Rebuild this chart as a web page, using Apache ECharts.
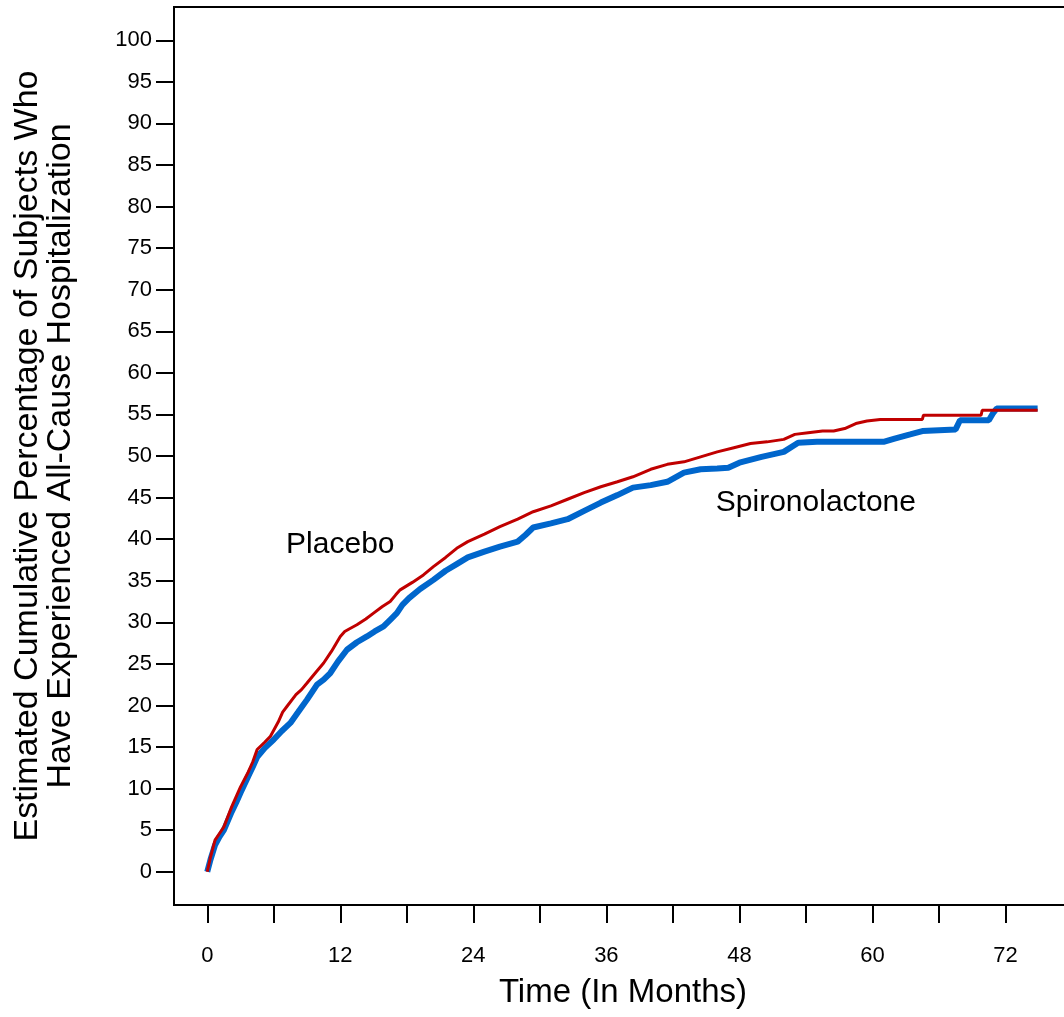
<!DOCTYPE html>
<html>
<head>
<meta charset="utf-8">
<script src="https://cdn.jsdelivr.net/npm/echarts@6/dist/echarts.min.js"></script>
<style>html,body{margin:0;padding:0;background:#fff}#chart{width:1064px;height:1017px}</style>
</head>
<body>
<div id="chart"></div>
<script>
// Placebo (red) cumulative incidence
const placeboMonths = [0, 0.3, 0.7, 1.1, 1.5, 2.2, 2.6, 3, 3.7, 4.1, 4.5, 5.2, 5.7, 6.4, 6.8, 7.2, 8, 8.5, 9, 9.8, 10.5, 11.2, 12, 12.4, 12.8, 13.5, 14.3, 15, 15.8, 16.5, 17, 17.4, 18.5, 19.5, 20.4, 21.5, 22.5, 23.5, 25, 26.4, 28, 29.4, 31, 32.5, 34, 35.5, 37, 38.4, 40, 41.5, 43, 44.5, 46, 47.5, 49, 50.5, 52, 53, 54.2, 55.5, 56.5, 57.5, 58.5, 59.5, 60.7, 64.5, 64.6, 69.8, 69.9, 74.9];
const placeboValues = [0, 1.8, 3.8, 4.6, 5.4, 7.8, 9.0, 10.2, 12, 13.2, 14.7, 15.6, 16.3, 18, 19.2, 19.9, 21.3, 21.9, 22.7, 24, 25.1, 26.5, 28.3, 28.9, 29.2, 29.7, 30.4, 31.1, 31.9, 32.5, 33.3, 33.9, 34.8, 35.7, 36.7, 37.8, 38.9, 39.7, 40.6, 41.5, 42.4, 43.3, 44.0, 44.8, 45.6, 46.3, 46.9, 47.5, 48.4, 49.0, 49.3, 49.9, 50.5, 51.0, 51.5, 51.7, 52.0, 52.6, 52.8, 53.0, 53.0, 53.3, 53.9, 54.2, 54.4, 54.4, 54.9, 54.9, 55.5, 55.5];

// Spironolactone (blue)
const spiroMonths = [0, 0.3, 0.7, 1.1, 1.5, 2.2, 2.6, 3, 3.7, 4.1, 4.5, 5.2, 6, 6.7, 7.5, 8.2, 9, 9.9, 10.5, 11.1, 11.8, 12.6, 13.5, 14.4, 15.1, 15.9, 16.5, 17.1, 17.6, 18.2, 19.2, 20.4, 21.5, 22.5, 23.5, 25, 26.4, 28, 28.7, 29.4, 31, 32.5, 34, 35.5, 37, 38.4, 40, 41.5, 43, 44.5, 46, 47, 48, 50, 52, 53.3, 55, 61, 62, 63.4, 64.5, 67.5, 67.9, 70.5, 70.9, 71.2, 74.9];
const spiroValues = [0, 1.5, 3.2, 4.2, 5.0, 7.2, 8.3, 9.5, 11.5, 12.6, 13.8, 14.9, 15.9, 16.9, 17.9, 19.2, 20.7, 22.5, 23.1, 23.9, 25.3, 26.7, 27.6, 28.3, 28.9, 29.5, 30.3, 31.1, 32.1, 32.9, 34.0, 35.1, 36.2, 37.0, 37.8, 38.5, 39.1, 39.7, 40.5, 41.4, 41.9, 42.4, 43.4, 44.4, 45.3, 46.2, 46.5, 46.9, 48.0, 48.4, 48.5, 48.6, 49.2, 49.9, 50.5, 51.6, 51.7, 51.7, 52.1, 52.6, 53.0, 53.2, 54.3, 54.3, 55.2, 55.7, 55.7];

// Axis ticks and labels
const xTickValues = [0, 6, 12, 18, 24, 30, 36, 42, 48, 54, 60, 66, 72];
const xLabelValues = [0, 12, 24, 36, 48, 60, 72];
const yTickValues = [0, 5, 10, 15, 20, 25, 30, 35, 40, 45, 50, 55, 60, 65, 70, 75, 80, 85, 90, 95, 100];

// In-plot text annotations (data coordinates)
const annotationNames = ['Placebo', 'Spironolactone'];
const annotationMonths = [12, 54.9];
const annotationValues = [39.3, 44.4];

const FONT = "'Liberation Sans', Arial, Helvetica, sans-serif";
const zip = (a, b) => a.map((v, i) => [v, b[i]]);

const chart = echarts.init(document.getElementById('chart'), null, { renderer: 'canvas' });
chart.setOption({
  animation: false,
  backgroundColor: '#ffffff',
  grid: { left: 174, top: 7, width: 898, height: 898, outerBoundsMode: 'none', containLabel: false, show: true, borderColor: '#000', borderWidth: 2, backgroundColor: 'transparent' },
  xAxis: {
    type: 'value', min: -3, max: 78,
    name: 'Time (In Months)', nameLocation: 'middle', nameGap: 71,
    nameTextStyle: { fontFamily: FONT, fontSize: 33, color: '#000' },
    axisLine: { show: true, onZero: false, lineStyle: { color: '#000', width: 2 } },
    axisTick: { show: true, length: 18, inside: false, customValues: xTickValues, lineStyle: { color: '#000', width: 2 } },
    axisLabel: { show: true, customValues: xLabelValues, margin: 40, fontFamily: FONT, fontSize: 22, color: '#000' },
    splitLine: { show: false }
  },
  yAxis: {
    type: 'value', min: -4, max: 104,
    name: 'Estimated Cumulative Percentage of Subjects Who\nHave Experienced All-Cause Hospitalization',
    nameLocation: 'middle', nameGap: 97, nameRotate: 90,
    nameTextStyle: { fontFamily: FONT, fontSize: 34, lineHeight: 33, color: '#000', align: 'center' },
    axisLine: { show: true, onZero: false, lineStyle: { color: '#000', width: 2 } },
    axisTick: { show: true, length: 18, inside: false, customValues: yTickValues, lineStyle: { color: '#000', width: 2 } },
    axisLabel: { show: true, customValues: yTickValues, margin: 22, fontFamily: FONT, fontSize: 22, color: '#000' },
    splitLine: { show: false }
  },
  series: [
    {
      name: 'Spironolactone', type: 'line', data: zip(spiroMonths, spiroValues),
      showSymbol: false, symbol: 'none', smooth: false,
      lineStyle: { color: '#0066CC', width: 6 }, z: 2
    },
    {
      name: 'Placebo', type: 'line', data: zip(placeboMonths, placeboValues),
      showSymbol: false, symbol: 'none', smooth: false,
      lineStyle: { color: '#C00000', width: 3 }, z: 3
    },
    {
      name: 'annotations', type: 'scatter', symbolSize: 0, silent: true,
      itemStyle: { opacity: 1, color: '#000' },
      emphasis: { disabled: true },
      data: annotationNames.map((n, i) => ({ name: n, value: [annotationMonths[i], annotationValues[i]] })),
      label: { show: true, position: 'inside', formatter: p => p.name, fontFamily: FONT, fontSize: 30, color: '#000', opacity: 1 }, z: 4
    }
  ]
});
</script>
</body>
</html>
